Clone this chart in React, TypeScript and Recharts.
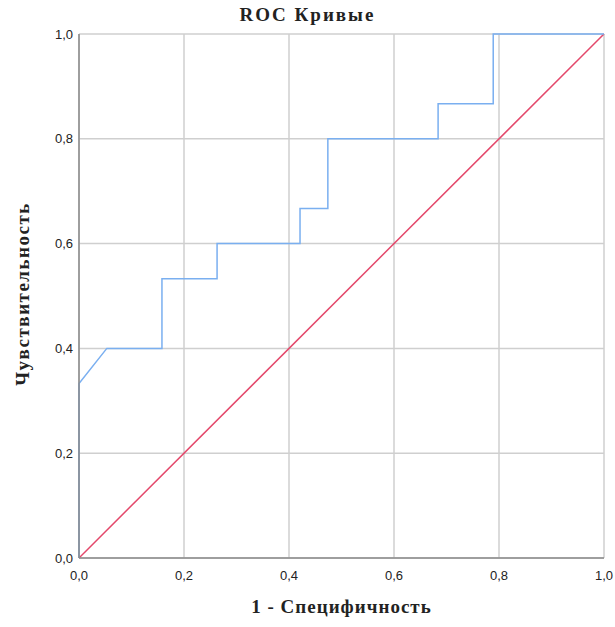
import { LineChart, Line, XAxis, YAxis, CartesianGrid } from 'recharts'

// ROC curve points (1 - specificity, sensitivity)
const rocX = [0, 0, 0.053, 0.158, 0.158, 0.263, 0.263, 0.421, 0.421, 0.474, 0.474, 0.684, 0.684, 0.789, 0.789, 1]
const rocY = [0, 0.333, 0.4, 0.4, 0.533, 0.533, 0.6, 0.6, 0.667, 0.667, 0.8, 0.8, 0.867, 0.867, 1, 1]
const refX = [0, 1]
const refY = [0, 1]
const ticks = [0, 0.2, 0.4, 0.6, 0.8, 1]

const rocData = rocX.map((x, i) => ({ x, roc: rocY[i] }))
const refData = refX.map((x, i) => ({ x, ref: refY[i] }))

const fmt = (v: number) => v.toFixed(1).replace('.', ',')

const serif = '"Liberation Serif", "Times New Roman", serif'
const sans = '"Liberation Sans", Arial, sans-serif'

export default function App() {
  return (
    <div style={{ position: 'absolute', left: 0, top: 0, width: 615, height: 627, background: '#fff' }}>
      <div
        style={{
          position: 'absolute', left: 0, width: 615, top: 4, textAlign: 'center',
          fontFamily: serif, fontWeight: 'bold', fontSize: 19, letterSpacing: 2, color: '#222',
        }}
      >
        ROC Кривые
      </div>
      <LineChart width={615} height={627} data={rocData} margin={{ top: 34, right: 11, bottom: 39, left: 34 }}>
        <CartesianGrid stroke="#cfcfcf" strokeWidth={1.5} />
        <XAxis
          type="number"
          dataKey="x"
          domain={[0, 1]}
          ticks={ticks}
          tickFormatter={fmt}
          tickLine={false}
          tickMargin={7}
          axisLine={{ stroke: '#8a8a8a', strokeWidth: 1.5 }}
          tick={{ fill: '#222', fontSize: 13, fontFamily: sans }}
          height={30}
        />
        <YAxis
          type="number"
          domain={[0, 1]}
          ticks={ticks}
          tickFormatter={fmt}
          tickLine={false}
          tickMargin={0}
          axisLine={{ stroke: '#8a8a8a', strokeWidth: 1.5 }}
          tick={{ fill: '#222', fontSize: 13, fontFamily: sans }}
          width={45}
        />
        <Line
          data={refData}
          dataKey="ref"
          type="linear"
          stroke="#e4486b"
          strokeWidth={1.5}
          dot={false}
          isAnimationActive={false}
        />
        <Line
          data={rocData}
          dataKey="roc"
          type="linear"
          stroke="#7aaff0"
          strokeWidth={1.5}
          dot={false}
          isAnimationActive={false}
        />
      </LineChart>
      <div
        style={{
          position: 'absolute', left: 79, width: 525, top: 596, textAlign: 'center',
          fontFamily: serif, fontWeight: 'bold', fontSize: 19, letterSpacing: 1, color: '#222',
        }}
      >
        1 - Специфичность
      </div>
      <div
        style={{
          position: 'absolute', left: 23, top: 294, transform: 'translate(-50%, -50%) rotate(-90deg)',
          whiteSpace: 'nowrap', fontFamily: serif, fontWeight: 'bold', fontSize: 19, letterSpacing: 1.5, color: '#222',
        }}
      >
        Чувствительность
      </div>
    </div>
  )
}
